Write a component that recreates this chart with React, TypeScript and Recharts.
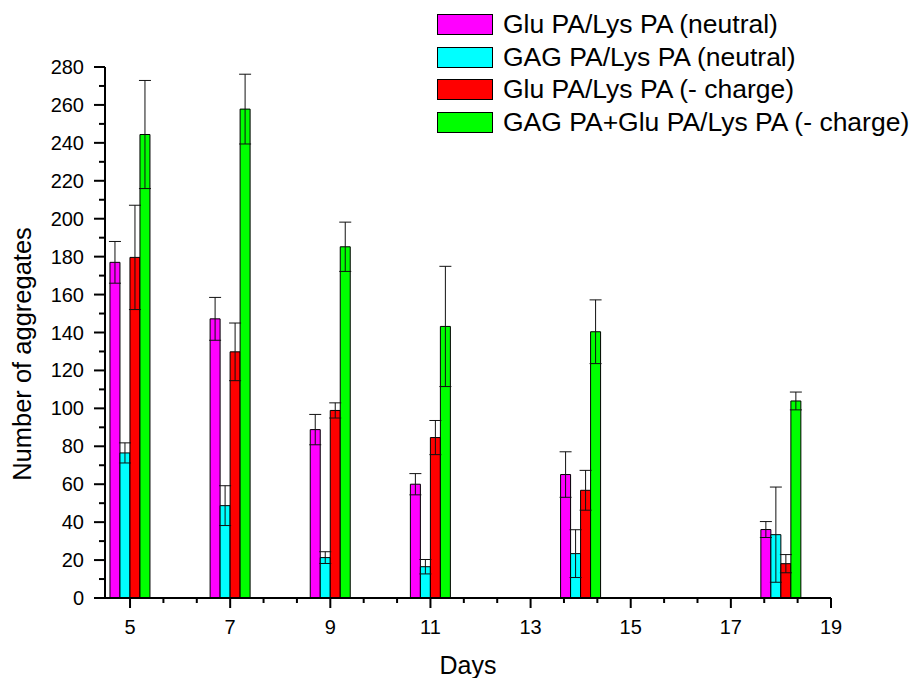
import React from "react";
import { BarChart, Bar, XAxis, YAxis, ErrorBar } from "recharts";

const FONT = '"Liberation Sans", Arial, sans-serif';

const days = [5, 7, 9, 11, 14, 18];
const gluNeutral = [177, 147.2, 88.8, 60, 65.1, 36.1];
const gluNeutralErr = [11, 11.3, 8, 5.6, 12, 4.2];
const gagNeutral = [76.5, 48.7, 21.3, 16.5, 23.4, 33.4];
const gagNeutralErr = [5.3, 10.5, 3.1, 3.8, 12.6, 25.1];
const gluCharge = [179.6, 129.8, 98.9, 84.6, 56.8, 18.1];
const gluChargeErr = [27.5, 15.2, 4, 9, 10.5, 4.8];
const gagGluCharge = [244.4, 257.8, 185.2, 143.2, 140.4, 103.9];
const gagGluChargeErr = [28.5, 18.4, 13, 31.7, 16.8, 4.7];

const seriesNames = [
  "Glu PA/Lys PA (neutral)",
  "GAG PA/Lys PA (neutral)",
  "Glu PA/Lys PA (- charge)",
  "GAG PA+Glu PA/Lys PA (- charge)",
];
const seriesColors = ["#ff00ff", "#00ffff", "#ff0000", "#00ff00"];
const seriesKeys = ["gluNeutral", "gagNeutral", "gluCharge", "gagGluCharge"];

const xMajor = [5, 7, 9, 11, 13, 15, 17, 19];
const xMinor = xMajor.flatMap(m => [m + 2 / 3, m + 4 / 3]).filter(v => v < 19);
const yTicks = [0, 10, 20, 30, 40, 50, 60, 70, 80, 90, 100, 110, 120, 130, 140, 150, 160, 170, 180, 190, 200, 210, 220, 230, 240, 250, 260, 270, 280];

const rows = days.map((day, i) => ({
  day,
  gluNeutral: gluNeutral[i],
  gluNeutralErr: gluNeutralErr[i],
  gagNeutral: gagNeutral[i],
  gagNeutralErr: gagNeutralErr[i],
  gluCharge: gluCharge[i],
  gluChargeErr: gluChargeErr[i],
  gagGluCharge: gagGluCharge[i],
  gagGluChargeErr: gagGluChargeErr[i],
}));

const MAIN_X_HEIGHT = 40;

function YTick(props: any) {
  const { x, y, payload } = props;
  const major = payload.value % 20 === 0;
  return (
    <g>
      <line x1={x} x2={x - (major ? 11 : 6)} y1={y} y2={y} stroke="#000" strokeWidth={2} />
      {major && (
        <text x={x - 21} y={y} dy="0.35em" textAnchor="end" fontSize={20} fontFamily={FONT} fill="#000">
          {payload.value}
        </text>
      )}
    </g>
  );
}

function XMajorTick(props: any) {
  const { x, y, payload } = props;
  return (
    <g>
      <line x1={x} x2={x} y1={y} y2={y + 10} stroke="#000" strokeWidth={2} />
      <text x={x} y={y + 36} textAnchor="middle" fontSize={20} fontFamily={FONT} fill="#000">
        {payload.value}
      </text>
    </g>
  );
}

// minor axis sits right under the main one, so draw its ticks back up on the axis line
function XMinorTick(props: any) {
  const { x, y } = props;
  const y0 = y - MAIN_X_HEIGHT;
  return <line x1={x} x2={x} y1={y0} y2={y0 + 5} stroke="#000" strokeWidth={2} />;
}

function XTitle(props: any) {
  const { viewBox } = props;
  return (
    <text x={viewBox.x + viewBox.width / 2} y={674} textAnchor="middle" fontSize={25} fontFamily={FONT} fill="#000">
      Days
    </text>
  );
}

function YTitle() {
  return (
    <text x={30.5} y={354} transform="rotate(-90, 30.5, 354)" textAnchor="middle" fontSize={25.5} fontFamily={FONT} fill="#000">
      Number of aggregates
    </text>
  );
}

export default function App() {
  return (
    <div style={{ position: "absolute", left: 0, top: 0, width: 916, height: 678, background: "#fff" }}>
      <BarChart
        width={916}
        height={678}
        data={rows}
        margin={{ top: 67, right: 85, bottom: 39, left: 45 }}
        barGap={0}
        barSize={10}
      >
        <XAxis
          xAxisId="main"
          type="number"
          dataKey="day"
          domain={[4.5, 19]}
          ticks={xMajor}
          interval={0}
          height={MAIN_X_HEIGHT}
          axisLine={{ stroke: "#000", strokeWidth: 2 }}
          tickLine={false}
          tickSize={0}
          tickMargin={0}
          tick={<XMajorTick />}
          label={<XTitle />}
        />
        <XAxis
          xAxisId="minor"
          type="number"
          dataKey="day"
          domain={[4.5, 19]}
          ticks={xMinor}
          interval={0}
          height={1}
          axisLine={false}
          tickLine={false}
          tickSize={0}
          tickMargin={0}
          tick={<XMinorTick />}
        />
        <YAxis
          type="number"
          domain={[0, 280]}
          ticks={yTicks}
          interval={0}
          width={60}
          axisLine={{ stroke: "#000", strokeWidth: 2 }}
          tickLine={false}
          tickSize={0}
          tickMargin={0}
          tick={<YTick />}
          label={<YTitle />}
        />
        {seriesKeys.map((key, i) => (
          <Bar
            key={key}
            xAxisId="main"
            dataKey={key}
            name={seriesNames[i]}
            fill={seriesColors[i]}
            stroke="#000"
            strokeWidth={1}
            isAnimationActive={false}
          >
            <ErrorBar dataKey={key + "Err"} width={6} stroke="#111" strokeWidth={1} direction="y" isAnimationActive={false} />
          </Bar>
        ))}
      </BarChart>
      <div style={{ position: "absolute", left: 437, top: 14, fontFamily: FONT, fontSize: 26.5, color: "#000" }}>
        {seriesNames.map((name, i) => (
          <div key={name} style={{ display: "flex", alignItems: "center", height: 32.7 }}>
            <div
              style={{
                width: 56,
                height: 21,
                boxSizing: "border-box",
                border: "1px solid #000",
                background: seriesColors[i],
                marginTop: -11.7,
              }}
            />
            <span style={{ marginLeft: 10, marginTop: -11.7, whiteSpace: "nowrap" }}>{name}</span>
          </div>
        ))}
      </div>
    </div>
  );
}
